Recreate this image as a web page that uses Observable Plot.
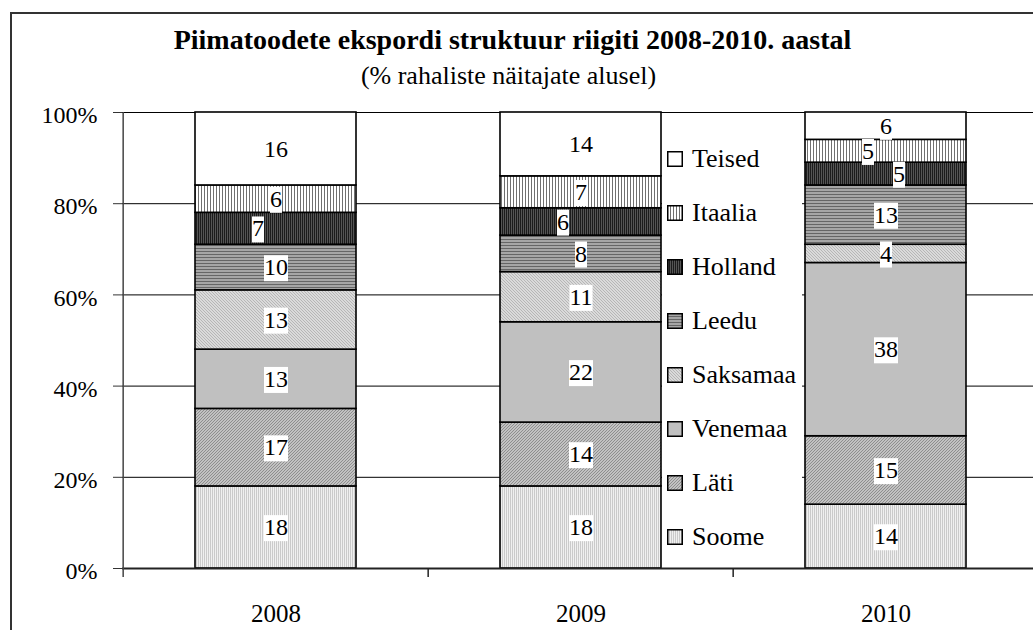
<!DOCTYPE html>
<html>
<head>
<meta charset="utf-8">
<script src="https://cdn.jsdelivr.net/npm/d3@7"></script>
<script src="https://cdn.jsdelivr.net/npm/@observablehq/plot@0.6"></script>
<style>
  html, body { margin: 0; padding: 0; background: #fff; overflow: hidden; }
  #wrap { position: relative; width: 1033px; height: 630px; overflow: hidden; background: #fff;
          font-family: "Liberation Serif", "Times New Roman", serif; color: #000; }
  #title { position: absolute; left: 0; width: 1025px; top: 26px; text-align: center;
           font-size: 28px; font-weight: bold; line-height: 1; white-space: nowrap; }
  #subtitle { position: absolute; left: 0; width: 1017px; top: 63px; text-align: center;
              font-size: 26px; line-height: 1; white-space: nowrap; }
  #chart { position: absolute; left: 0; top: 95px; }
  #chart svg { background: none; overflow: visible; }
  #legend { position: absolute; left: 662px; top: 115px; width: 140px; height: 450px;
            background: #fff; box-sizing: border-box; padding-top: 16.5px; padding-left: 5px; }
  .row { height: 54.07px; display: flex; align-items: center; font-size: 26px; line-height: 1; white-space: nowrap; }
  .row svg { width: 16px; height: 16px; margin-right: 9px; flex: none; }
  #frame { position: absolute; left: 10px; top: 12px; width: 1100px; height: 700px;
           border: 2px solid #333; pointer-events: none; }
  #defs { position: absolute; width: 0; height: 0; }
</style>
</head>
<body>
<svg id="defs" width="0" height="0">
  <defs>
    <pattern id="p0" patternUnits="userSpaceOnUse" width="2" height="2">
      <rect width="2" height="2" fill="#f0f0f0"/><rect width="1" height="2" fill="#cacaca"/>
    </pattern>
    <pattern id="p1" patternUnits="userSpaceOnUse" width="3" height="3">
      <rect width="3" height="3" fill="#c2c2c2"/>
      <path d="M0,3L3,0M-1,1L1,-1M2,4L4,2" stroke="#8e8e8e" stroke-width="1"/>
    </pattern>
    <pattern id="p2" patternUnits="userSpaceOnUse" width="4" height="4">
      <rect width="4" height="4" fill="#c0c0c0"/>
    </pattern>
    <pattern id="p3" patternUnits="userSpaceOnUse" width="3" height="3">
      <rect width="3" height="3" fill="#dadada"/>
      <path d="M0,0L3,3M-1,2L1,4M2,-1L4,1" stroke="#b6b6b6" stroke-width="1"/>
    </pattern>
    <pattern id="p4" patternUnits="userSpaceOnUse" width="3" height="3">
      <rect width="3" height="3" fill="#a6a6a6"/><rect width="3" height="1" fill="#666666"/>
    </pattern>
    <pattern id="p5" patternUnits="userSpaceOnUse" width="2" height="2">
      <rect width="2" height="2" fill="#555555"/><rect width="1" height="2" fill="#1c1c1c"/>
    </pattern>
    <pattern id="p6" patternUnits="userSpaceOnUse" width="3" height="3">
      <rect width="3" height="3" fill="#ffffff"/><rect width="1" height="3" fill="#707070"/>
    </pattern>
    <pattern id="p7" patternUnits="userSpaceOnUse" width="4" height="4">
      <rect width="4" height="4" fill="#ffffff"/>
    </pattern>
  </defs>
</svg>
<div id="wrap">
  <div id="title">Piimatoodete ekspordi struktuur riigiti 2008-2010. aastal</div>
  <div id="subtitle">(% rahaliste näitajate alusel)</div>
  <div id="chart"></div>
  <div id="legend"></div>
  <div id="frame"></div>
</div>
<script>
// ---- data ----
const years = ["2008", "2009", "2010"];
const countries = ["Soome", "Läti", "Venemaa", "Saksamaa", "Leedu", "Holland", "Itaalia", "Teised"];
const values2008 = [18, 17, 13, 13, 10, 7, 6, 16];
const values2009 = [18, 14, 22, 11, 8, 6, 7, 14];
const values2010 = [14, 15, 38, 4, 13, 5, 5, 6];
const yTicks = [0, 20, 40, 60, 80, 100];

// ---- table built from the arrays ----
const valuesByYear = [values2008, values2009, values2010];
const rows = [];
years.forEach((yr, j) => {
  countries.forEach((c, i) => rows.push({year: yr, country: c, value: valuesByYear[j][i], idx: i}));
});
const patternOf = (i) => `url(#p${i})`;

const xRange = [122, 1039];
const step = (xRange[1] - xRange[0]) / years.length;
const FONT = "'Liberation Serif', 'Times New Roman', serif";

const chart = Plot.plot({
  width: 1033,
  height: 535,
  marginTop: 17,
  marginBottom: 62,
  marginLeft: 122,
  marginRight: 0,
  style: {fontFamily: FONT, fontSize: "24px", background: "none", color: "#000", overflow: "visible"},
  x: {type: "band", domain: years, range: xRange, paddingInner: 0.473, paddingOuter: 0.2365},
  y: {domain: [0, 100]},
  color: {type: "identity"},
  marks: [
    Plot.ruleY(yTicks, {stroke: "#000", strokeWidth: 1}),
    Plot.axisY({ticks: yTicks, tickSize: 9, tickFormat: () => "", label: null, stroke: "#333"}),
    Plot.axisY({ticks: yTicks, tickSize: 0, tickPadding: 25, dy: 3, tickFormat: (d) => d + "%",
                label: null, fontSize: 24, fill: "#000"}),
    Plot.barY(rows, Plot.stackY({
      x: "year", y: "value", z: "country",
      fill: (d) => patternOf(d.idx),
      stroke: "#000", strokeWidth: 1.6
    })),
    Plot.ruleY([0], {stroke: "#222", strokeWidth: 2}),
    Plot.ruleX([years[0]], {x: (d) => d, dx: -step / 2, insetBottom: -9, stroke: "#444", strokeWidth: 1.5}),
    Plot.ruleX(years.slice(1), {x: (d) => d, dx: -step / 2, y1: 0, y2: 0, insetBottom: -9, stroke: "#222", strokeWidth: 1.5}),
    Plot.axisX({tickSize: 0, tickPadding: 36, label: null, fontSize: 25, fill: "#000"}),
    Plot.text(rows, Plot.stackY({
      x: "year", y: "value", z: "country",
      text: (d) => String(d.value),
      fontSize: 24, fill: "#000"
    }))
  ]
});
document.getElementById("chart").appendChild(chart);

// ---- segment labels: nudge crowded ones sideways, then add white boxes ----
const svgNS = "http://www.w3.org/2000/svg";
const textGroups = chart.querySelectorAll('g[aria-label="text"]');
const labelGroup = textGroups[textGroups.length - 1];
const labelEls = [...labelGroup.querySelectorAll("text")];
const yScale = chart.scale("y");
const labelInfo = labelEls.map((t, k) => {
  const d = rows[t.__data__ ?? k];
  const vals = valuesByYear[years.indexOf(d.year)];
  const below = d3.sum(vals.slice(0, d.idx));
  return {t, year: d.year, y: yScale.apply(below + d.value / 2), shift: 0};
});
for (const [, items] of d3.group(labelInfo, (o) => o.year)) {
  items.sort((a, b) => a.y - b.y); // top first
  for (let k = 1; k < items.length; k++) {
    if (items[k].y - items[k - 1].y < 30) items[k].shift = items[k - 1].shift < 0 ? 13 : -18;
  }
}
labelInfo.forEach((o) => {
  if (o.shift) {
    const tr = o.t.getAttribute("transform") || "";
    o.t.setAttribute("transform", `${tr} translate(${o.shift},0)`);
  }
});
labelEls.forEach((t) => {
  const b = t.getBBox();
  const r = document.createElementNS(svgNS, "rect");
  r.setAttribute("x", b.x);
  r.setAttribute("y", b.y + 1);
  r.setAttribute("width", b.width);
  r.setAttribute("height", b.height);
  r.setAttribute("fill", "#fff");
  const tr = t.getAttribute("transform");
  if (tr) r.setAttribute("transform", tr);
  t.parentNode.insertBefore(r, t);
});

// ---- legend (top to bottom = reverse stack order) ----
const legend = document.getElementById("legend");
countries.map((c, i) => ({c, i})).reverse().forEach(({c, i}) => {
  const row = document.createElement("div");
  row.className = "row";
  row.innerHTML = `<svg viewBox="0 0 16 16"><rect x="0.75" y="0.75" width="14.5" height="14.5" fill="${patternOf(i)}" stroke="#000" stroke-width="1.5"/></svg><span>${c}</span>`;
  legend.appendChild(row);
});
</script>
</body>
</html>
